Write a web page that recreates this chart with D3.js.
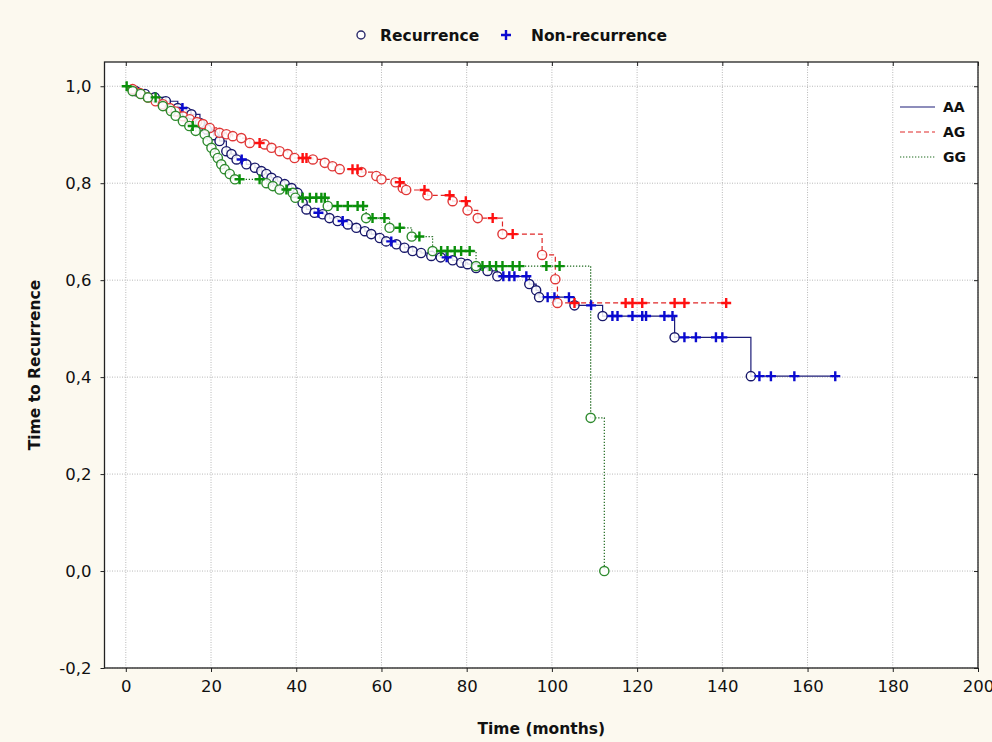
<!DOCTYPE html>
<html><head><meta charset="utf-8">
<script src="https://cdn.jsdelivr.net/npm/d3@7"></script>
<style>body{margin:0;background:#fcf9ef;}svg{display:block}</style>
</head><body>
<svg id="c" width="992" height="742"></svg>
<script>
// ---- data ----
const xTicks = [0,20,40,60,80,100,120,140,160,180,200];
const yTicks = [-0.2,0,0.2,0.4,0.6,0.8,1.0];
const groups = ["AA","AG","GG"];
const markerLegend = ["Recurrence","Non-recurrence"];

const aaEvents = [[2.3,0.990],[4.5,0.984],[6.8,0.977],[9.4,0.969],[12.2,0.955],[14.2,0.947],[15.4,0.942],[17.4,0.924],[19.0,0.911],[20.6,0.899],[22.0,0.887],[23.6,0.866],[24.8,0.860],[26.0,0.849],[28.3,0.839],[30.3,0.832],[31.8,0.825],[33.0,0.819],[34.2,0.811],[35.6,0.804],[37.3,0.798],[38.9,0.790],[40.3,0.780],[41.5,0.759],[42.4,0.746],[44.3,0.739],[46.2,0.736],[47.8,0.728],[49.7,0.722],[52.1,0.715],[54.1,0.708],[56.1,0.701],[57.6,0.695],[59.6,0.687],[61.1,0.680],[63.5,0.674],[65.4,0.667],[67.3,0.660],[69.3,0.656],[71.7,0.650],[73.9,0.647],[76.7,0.641],[78.7,0.636],[80.2,0.633],[82.2,0.625],[84.9,0.619],[87.2,0.608],[94.7,0.592],[96.3,0.579],[97.0,0.565],[105.3,0.548],[111.9,0.526],[128.8,0.482],[146.7,0.402]];
const aaCensored = [[13.3,0.955],[27.2,0.849],[45.2,0.739],[50.9,0.722],[62.3,0.680],[75.3,0.647],[88.6,0.608],[90.0,0.608],[91.2,0.608],[94.0,0.608],[99.0,0.565],[100.6,0.565],[104.0,0.565],[109.2,0.548],[114.2,0.526],[115.4,0.526],[118.9,0.526],[121.2,0.526],[122.1,0.526],[126.4,0.526],[128.3,0.526],[131.1,0.482],[133.8,0.482],[138.5,0.482],[140.0,0.482],[148.7,0.402],[151.4,0.402],[156.9,0.402],[166.5,0.402]];

const agEvents = [[1.6,0.994],[3.3,0.986],[5.2,0.977],[7.0,0.969],[8.7,0.963],[10.3,0.955],[11.7,0.948],[13.4,0.938],[15.0,0.932],[16.7,0.926],[18.1,0.922],[19.7,0.914],[22.0,0.904],[23.6,0.901],[25.1,0.897],[27.1,0.893],[29.1,0.883],[32.6,0.880],[34.2,0.873],[36.1,0.866],[38.0,0.860],[39.6,0.852],[43.9,0.849],[46.7,0.842],[48.5,0.835],[50.2,0.829],[55.3,0.823],[58.8,0.815],[60.0,0.808],[63.3,0.802],[65.0,0.790],[65.8,0.786],[70.8,0.775],[76.7,0.763],[80.2,0.744],[82.6,0.728],[88.4,0.695],[97.7,0.652],[100.8,0.602],[101.3,0.553]];
const agCensored = [[31.4,0.883],[41.5,0.852],[42.4,0.852],[53.2,0.829],[54.4,0.829],[64.3,0.802],[70.1,0.786],[76.0,0.775],[79.8,0.763],[86.1,0.728],[90.8,0.695],[105.3,0.553],[117.3,0.553],[118.9,0.553],[121.2,0.553],[128.8,0.553],[131.1,0.553],[140.9,0.553]];

const ggEvents = [[1.6,0.990],[3.5,0.984],[5.2,0.977],[8.7,0.959],[10.6,0.949],[11.7,0.939],[13.4,0.928],[14.9,0.918],[16.4,0.908],[18.5,0.901],[19.2,0.887],[20.1,0.873],[20.9,0.862],[21.6,0.852],[22.4,0.839],[23.2,0.829],[24.4,0.819],[25.6,0.808],[33.0,0.800],[34.5,0.794],[36.1,0.787],[39.2,0.780],[39.8,0.770],[47.4,0.753],[56.4,0.728],[61.9,0.708],[67.1,0.690],[72.0,0.660],[82.2,0.629],[109.1,0.316],[112.3,0.0]];
const ggCensored = [[0.2,1.0],[7.0,0.977],[15.7,0.918],[26.7,0.808],[31.4,0.808],[37.7,0.787],[41.5,0.770],[43.2,0.770],[44.7,0.770],[45.9,0.770],[46.7,0.770],[49.7,0.753],[52.1,0.753],[54.4,0.753],[55.7,0.753],[57.9,0.728],[60.7,0.728],[64.3,0.708],[68.9,0.690],[74.0,0.660],[75.5,0.660],[77.2,0.660],[78.7,0.660],[80.7,0.660],[83.7,0.629],[85.4,0.629],[86.9,0.629],[88.4,0.629],[90.8,0.629],[92.4,0.629],[98.7,0.629],[101.8,0.629]];

// ---- layout / style ----
const svg = d3.select("#c");
const L = 104.5, R = 978, T = 62, B = 668;
const x = d3.scaleLinear().domain([-5, 200]).range([L, R]);
const y = d3.scaleLinear().domain([-0.2, 1.05]).range([B, T]);

const style = {
  AA: {line:"#1c1c78", dash:null, circ:"#18186a", plus:"#0a0ad0"},
  AG: {line:"#e02828", dash:"5,3", circ:"#e03838", plus:"#ff1010"},
  GG: {line:"#1f6a1f", dash:"1.3,1.7", circ:"#2e8a2e", plus:"#0a900a"}
};
const series = [
  {name:"AA", ev:aaEvents, ce:aaCensored},
  {name:"AG", ev:agEvents, ce:agCensored},
  {name:"GG", ev:ggEvents, ce:ggCensored}
];

svg.append("rect").attr("width",992).attr("height",742).attr("fill","#fcf9ef");
svg.append("rect").attr("x",L).attr("y",T).attr("width",R-L).attr("height",B-T).attr("fill","#ffffff");

// grid
const grid = svg.append("g");
grid.selectAll("line.gx").data(xTicks).join("line")
  .attr("x1",d=>x(d)).attr("x2",d=>x(d)).attr("y1",T).attr("y2",B)
  .attr("stroke","#b8b8b8").attr("stroke-width",1).attr("stroke-dasharray","1,1.5");
grid.selectAll("line.gy").data(yTicks).join("line")
  .attr("y1",d=>y(d)).attr("y2",d=>y(d)).attr("x1",L).attr("x2",R)
  .attr("stroke","#b8b8b8").attr("stroke-width",1).attr("stroke-dasharray","1,1.5");

// axes
const fmt = d => d3.format(".1f")(d).replace(".", ",").replace("−","-");
const xAxis = d3.axisBottom(x).tickValues(xTicks).tickSize(4).tickPadding(8).tickFormat(d3.format("d"));
const yAxis = d3.axisLeft(y).tickValues(yTicks).tickSize(4).tickPadding(9).tickFormat(fmt);
const gx = svg.append("g").attr("transform",`translate(0,${B})`).call(xAxis);
const gy = svg.append("g").attr("transform",`translate(${L},0)`).call(yAxis);
svg.append("g").attr("transform",`translate(0,${T})`).call(d3.axisTop(x).tickValues(xTicks).tickSize(-4).tickFormat(""));
svg.append("g").attr("transform",`translate(${R},0)`).call(d3.axisRight(y).tickValues(yTicks).tickSize(-4).tickFormat(""));
svg.selectAll(".domain").remove();
svg.selectAll(".tick line").attr("stroke","#222");
[gx,gy].forEach(g=>g.selectAll("text").attr("font-family","DejaVu Sans").attr("font-size",16.5).attr("fill","#111"));
svg.append("rect").attr("x",L).attr("y",T).attr("width",R-L).attr("height",B-T)
  .attr("fill","none").attr("stroke","#222").attr("stroke-width",1.3);

// curves
const line = d3.line().x(d=>x(d[0])).y(d=>y(d[1])).curve(d3.curveStepAfter);
const plot = svg.append("g");
series.forEach(s=>{
  const st = style[s.name];
  const tEnd = Math.max(d3.max(s.ev,d=>d[0]), d3.max(s.ce,d=>d[0]));
  const pts = [[0,1]].concat(s.ev);
  pts.push([tEnd, s.ev[s.ev.length-1][1]]);
  plot.append("path").attr("d",line(pts)).attr("fill","none")
    .attr("stroke",st.line).attr("stroke-width",1.2)
    .attr("stroke-dasharray",st.dash);
});
series.forEach(s=>{
  const st = style[s.name];
  plot.append("g").selectAll("circle").data(s.ev).join("circle")
    .attr("cx",d=>x(d[0])).attr("cy",d=>y(d[1])).attr("r",4.6)
    .attr("fill","#ffffff").attr("fill-opacity",0.85)
    .attr("stroke",st.circ).attr("stroke-width",1.4);
  plot.append("g").selectAll("path").data(s.ce).join("path")
    .attr("d",d=>`M${x(d[0])-5},${y(d[1])}h10M${x(d[0])},${y(d[1])-5}v10`)
    .attr("stroke",st.plus).attr("stroke-width",2.4);
});

// titles
svg.append("text").attr("x",(L+R)/2).attr("y",734).attr("text-anchor","middle")
  .attr("font-family","DejaVu Sans").attr("font-weight","bold").attr("font-size",15.5).attr("fill","#111")
  .text("Time (months)");
svg.append("text").attr("transform",`translate(40,${(T+B)/2}) rotate(-90)`).attr("text-anchor","middle")
  .attr("font-family","DejaVu Sans").attr("font-weight","bold").attr("font-size",15.5).attr("fill","#111")
  .text("Time to Recurrence");

// top legend
const lg = svg.append("g");
lg.append("circle").attr("cx",361).attr("cy",35).attr("r",4).attr("fill","#fff").attr("stroke","#2a2a6a").attr("stroke-width",1.4);
lg.append("text").attr("x",380).attr("y",41).text(markerLegend[0]);
lg.append("path").attr("d","M501,35h10M506,30v10").attr("stroke","#0a0ad0").attr("stroke-width",2.4);
lg.append("text").attr("x",531).attr("y",41).text(markerLegend[1]);
lg.selectAll("text").attr("font-family","DejaVu Sans").attr("font-weight","bold").attr("font-size",15.5).attr("fill","#111");

// line legend
const ll = svg.append("g");
groups.forEach((g,i)=>{
  const yy = 107 + i*25;
  const st = style[g];
  ll.append("line").attr("x1",900).attr("x2",935).attr("y1",yy).attr("y2",yy)
    .attr("stroke",st.line).attr("stroke-width",1.2).attr("stroke-dasharray",st.dash);
  ll.append("text").attr("x",943).attr("y",yy+5).text(g)
    .attr("font-family","DejaVu Sans").attr("font-weight","bold").attr("font-size",14).attr("fill","#111");
});
</script>
</body></html>
